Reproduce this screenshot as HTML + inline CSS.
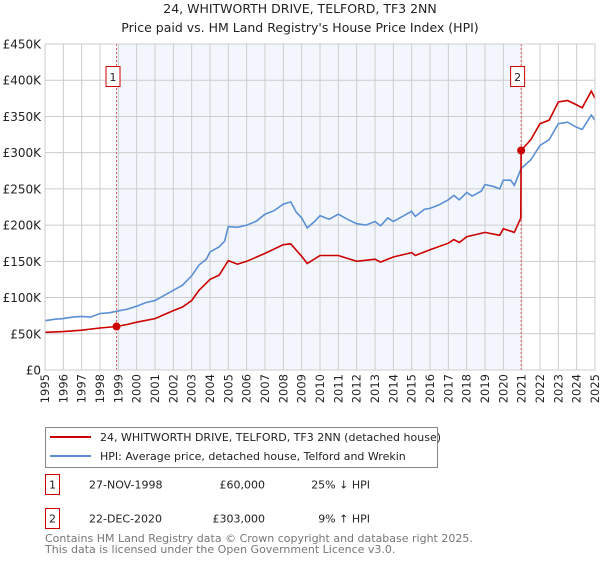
<!DOCTYPE html>
<html><head><meta charset="utf-8"><style>
body{margin:0;background:#fff;font-family:"DejaVu Sans","Liberation Sans",sans-serif;}
svg text{font-family:"DejaVu Sans","Liberation Sans",sans-serif;}
</style></head><body>
<svg id="c" width="600" height="560" xmlns="http://www.w3.org/2000/svg">
<text x="300" y="13" text-anchor="middle" font-size="12.5" fill="#222">24, WHITWORTH DRIVE, TELFORD, TF3 2NN</text>
<text x="300" y="32" text-anchor="middle" font-size="12.5" fill="#222">Price paid vs. HM Land Registry's House Price Index (HPI)</text>
<g id="plot"></g>
<g>
<rect x="45.5" y="427.5" width="392" height="40" fill="#fff" stroke="#888"/>
<line x1="50" y1="437" x2="91" y2="437" stroke="#cc0000" stroke-width="2"/>
<text x="100" y="441" font-size="11" fill="#222">24, WHITWORTH DRIVE, TELFORD, TF3 2NN (detached house)</text>
<line x1="50" y1="456" x2="91" y2="456" stroke="#5b8fd4" stroke-width="2"/>
<text x="100" y="460" font-size="11" fill="#222">HPI: Average price, detached house, Telford and Wrekin</text>
</g>
<g font-size="11" fill="#222">
<rect x="45.5" y="474.5" width="14" height="20" fill="none" stroke="#cc0000"/>
<text x="52.5" y="488.5" text-anchor="middle">1</text>
<text x="89" y="488.5">27-NOV-1998</text>
<text x="265" y="488.5" text-anchor="end">£60,000</text>
<text x="370" y="488.5" text-anchor="end">25% ↓ HPI</text>
<rect x="45.5" y="508.5" width="14" height="20" fill="none" stroke="#cc0000"/>
<text x="52.5" y="522.5" text-anchor="middle">2</text>
<text x="89" y="522.5">22-DEC-2020</text>
<text x="265" y="522.5" text-anchor="end">£303,000</text>
<text x="370" y="522.5" text-anchor="end">9% ↑ HPI</text>
</g>
<text x="45" y="542" font-size="11" fill="#777">Contains HM Land Registry data © Crown copyright and database right 2025.</text>
<text x="45" y="553" font-size="11" fill="#777">This data is licensed under the Open Government Licence v3.0.</text>
</svg>
<script>
const hpiYears=[1995,1995.5,1996,1996.5,1997,1997.5,1998,1998.5,1998.9,1999.5,2000,2000.5,2001,2001.5,2002,2002.5,2003,2003.4,2003.8,2004,2004.5,2004.8,2005,2005.5,2006,2006.5,2007,2007.5,2008,2008.4,2008.7,2009,2009.3,2009.7,2010,2010.5,2011,2011.5,2012,2012.5,2013,2013.3,2013.7,2014,2014.5,2015,2015.2,2015.7,2016,2016.5,2017,2017.3,2017.6,2018,2018.3,2018.8,2019,2019.5,2019.8,2020,2020.4,2020.6,2020.97,2021.5,2022,2022.5,2023,2023.5,2024,2024.3,2024.8,2025];
const hpiValues=[68,70,71,73,74,73,78,79,81,84,88,93,96,103,110,117,130,145,153,163,170,178,198,197,200,205,215,220,229,232,218,210,196,205,213,208,215,208,202,200,205,199,210,205,212,219,212,222,223,228,235,241,235,245,240,247,256,253,250,262,262,255,278,290,310,318,340,342,335,332,352,345];
const redYears=[1995,1996,1997,1998,1998.9,1999.5,2000,2001,2002,2002.5,2003,2003.4,2004,2004.5,2005,2005.5,2006,2007,2008,2008.4,2009,2009.3,2010,2011,2012,2013,2013.3,2014,2015,2015.2,2016,2017,2017.3,2017.6,2018,2019,2019.8,2020,2020.6,2020.95,2020.97,2021.5,2022,2022.5,2023,2023.5,2024,2024.3,2024.8,2025];
const redValues=[52,53,55,58,60,63,66,71,82,87,96,110,125,131,151,146,150,161,173,174,157,147,158,158,150,153,149,156,162,158,166,175,180,176,184,190,186,195,190,210,303,318,340,345,370,372,366,362,385,375];
const saleYears=[1998.9,2020.97];
const saleValues=[60,303];
const saleLabels=["1","2"];
const yTicks=[0,50,100,150,200,250,300,350,400,450];
const yTickLabels=["£0","£50K","£100K","£150K","£200K","£250K","£300K","£350K","£400K","£450K"];
const xTicks=[1995,1996,1997,1998,1999,2000,2001,2002,2003,2004,2005,2006,2007,2008,2009,2010,2011,2012,2013,2014,2015,2016,2017,2018,2019,2020,2021,2022,2023,2024,2025];
const L=45,R=595,T=44,B=370;
const xs=y=>L+(y-1995)/30*(R-L);
const ys=v=>B-v/450*(B-T);
const NS="http://www.w3.org/2000/svg";
const g=document.getElementById('plot');
function mk(t,a){const e=document.createElementNS(NS,t);for(const k in a)e.setAttribute(k,a[k]);g.appendChild(e);return e;}
let e=mk('rect',{x:xs(saleYears[0]),y:T,width:xs(saleYears[1])-xs(saleYears[0]),height:B-T,fill:'#eef3fc',opacity:0.7});


xTicks.forEach(t=>{
 const l=mk('line',{x1:xs(t),x2:xs(t),y1:T,y2:B,stroke:'#cccccc'});
 
 
 const tx=mk('text',{x:0,y:0,'font-size':11.5,fill:'#222','text-anchor':'end',transform:`translate(${xs(t)+4},374) rotate(-90)`});
 tx.textContent=t;
 
 
});
yTicks.forEach((t,i)=>{
 const l=mk('line',{x1:L,x2:R,y1:ys(t),y2:ys(t),stroke:'#cccccc'});
 
 
 const tx=mk('text',{x:41,y:ys(t)+4.5,'font-size':12,fill:'#222','text-anchor':'end'});
 tx.textContent=yTickLabels[i];
 
 
});
saleYears.forEach((s,i)=>{
 const l=mk('line',{x1:xs(s),x2:xs(s),y1:T,y2:B,stroke:'#e06060','stroke-dasharray':'2,2'});
 
 
});
const path=(xa,va)=>xa.map((y,i)=>(i?'L':'M')+xs(y).toFixed(1)+','+ys(va[i]).toFixed(1)).join('');
e=mk('path',{d:path(hpiYears,hpiValues),fill:'none',stroke:'#5b8fd4','stroke-width':1.6});


e=mk('path',{d:path(redYears,redValues),fill:'none',stroke:'#cc0000','stroke-width':1.6});


saleYears.forEach((s,i)=>{
 const c=mk('circle',{cx:xs(s),cy:ys(saleValues[i]),r:4,fill:'#cc0000'});
 
 
 const r=mk('rect',{x:xs(s)-10.5,y:66.5,width:14,height:20,fill:'#fff',stroke:'#cc0000'});
 
 
 const t=mk('text',{x:xs(s)-3.5,y:81,'font-size':11,fill:'#222','text-anchor':'middle'});
 t.textContent=saleLabels[i];
 
 
});
e=mk('rect',{x:L,y:T,width:R-L,height:B-T,fill:'none',stroke:'#cccccc'});


</script>
</body></html>
